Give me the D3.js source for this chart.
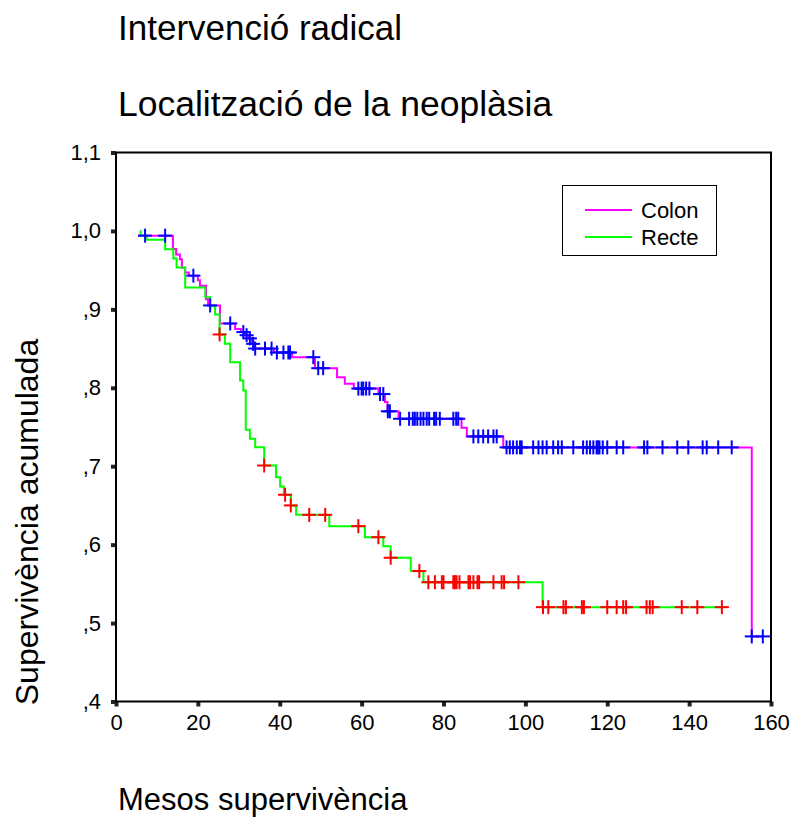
<!DOCTYPE html>
<html><head><meta charset="utf-8">
<script src="https://cdn.jsdelivr.net/npm/d3@7"></script>
<style>body{margin:0;background:#fff}svg{display:block}text{font-family:"Liberation Sans",Arial,Helvetica,sans-serif}</style>
</head><body>
<script>
// ---- data ----
const title1 = "Intervenció radical";
const title2 = "Localització de la neoplàsia";
const xTitle = "Mesos supervivència";
const yTitle = "Supervivència acumulada";
const seriesNames = ["Colon", "Recte"];
const xTicks = [0,20,40,60,80,100,120,140,160];
const yTicks = [0.4,0.5,0.6,0.7,0.8,0.9,1.0,1.1];
const yTickLabels = [",4",",5",",6",",7",",8",",9","1,0","1,1"];

// Colon: step times and survival after each step (first = start)
const colonT = [5.4,13.9,14.7,15.6,16.1,16.9,17.8,20.0,20.5,22.0,22.5,25.4,29.1,30.5,31.5,32.4,33.2,33.7,38.6,43.0,48.6,54.0,55.9,58.1,64.1,65.7,66.3,69.0,84.4,85.7,94.6,155.3];
const colonS = [0.994,0.977,0.970,0.964,0.953,0.947,0.943,0.937,0.930,0.913,0.905,0.882,0.875,0.871,0.867,0.863,0.856,0.850,0.845,0.839,0.825,0.8135,0.805,0.799,0.792,0.782,0.770,0.7605,0.749,0.738,0.724,0.483];
const colonCens = [7.1,12.0,18.9,23.0,27.9,31.1,31.9,32.7,33.5,34.0,36.4,38.0,39.3,40.9,42.1,42.5,48.2,49.4,50.6,59.2,60.0,60.4,61.1,61.9,64.5,65.3,66.4,66.9,69.4,71.6,72.5,73.0,73.6,74.4,75.1,75.9,76.5,77.7,78.2,79.1,82.4,83.1,83.6,87.3,88.5,89.7,90.9,92.2,93.0,95.4,96.2,97.0,97.9,98.7,99.1,101.9,103.2,104.2,105.2,106.8,108.0,108.9,111.7,114.1,115.0,115.8,116.6,117.4,117.7,118.1,118.9,120.0,122.3,123.9,129.0,129.8,133.5,137.1,139.8,143.3,144.3,147.1,150.4,155.3,158.0];

// Recte
const recteT = [5.9,6.0,7.5,12.0,14.0,14.8,16.9,21.8,23.0,24.2,25.3,26.6,27.9,30.3,31.1,31.7,32.7,34.0,36.2,39.1,40.1,41.0,42.7,44.0,52.1,60.8,65.3,67.1,72.0,75.1,104.2];
const recteS = [1.0,0.994,0.9887,0.9767,0.9648,0.9533,0.9278,0.9155,0.904,0.8935,0.868,0.856,0.8326,0.8093,0.7966,0.7465,0.735,0.7243,0.7009,0.686,0.6742,0.6636,0.650,0.638,0.6236,0.6095,0.598,0.5833,0.5663,0.5521,0.5203];
const recteCens = [25.3,36.2,41.3,42.7,47.2,51.1,59.2,64.1,67.1,74.1,76.3,77.9,79.6,80.0,82.4,82.8,83.2,83.9,86.1,86.5,87.3,88.3,88.7,92.2,94.2,94.8,98.3,104.3,105.6,109.3,109.9,113.8,114.3,120.0,122.3,123.9,124.6,129.6,130.4,131.1,138.2,142.0,148.0];

// ---- drawing ----
const W = 795, H = 822;
const svg = d3.select("body").append("svg").attr("width", W).attr("height", H);
const x = d3.scaleLinear().domain([0,160]).range([116,771]);
const y = d3.scaleLinear().domain([0.4,1.1]).range([701.5,152.5]);

svg.append("text").attr("x",118).attr("y",40).attr("font-size",35).text(title1);
svg.append("text").attr("x",118).attr("y",116).attr("font-size",35.5).text(title2);
svg.append("text").attr("x",118).attr("y",810).attr("font-size",31).text(xTitle);
svg.append("text").attr("transform","translate(38,522) rotate(-90)").attr("text-anchor","middle").attr("font-size",32).text(yTitle);

// axes
const yAxis = d3.axisLeft(y).tickValues(yTicks).tickFormat((d,i)=>yTickLabels[i]).tickSize(5).tickPadding(10);
const gy = svg.append("g").attr("transform","translate(116,0)").call(yAxis);
gy.select(".domain").remove();
gy.selectAll(".tick line").attr("stroke","#222").attr("stroke-width",4);
gy.selectAll(".tick text").attr("font-size",22).attr("font-family","Liberation Sans, Arial, sans-serif").attr("fill","#000");

const xAxis = d3.axisBottom(x).tickValues(xTicks).tickFormat(d3.format("d")).tickSize(5).tickPadding(8);
const gx = svg.append("g").attr("transform","translate(0,701.5)").call(xAxis);
gx.select(".domain").remove();
gx.selectAll(".tick line").attr("stroke","#222").attr("stroke-width",4);
gx.selectAll(".tick text").attr("font-size",22).attr("font-family","Liberation Sans, Arial, sans-serif").attr("fill","#000");

// frame
svg.append("rect").attr("x",x(0)).attr("y",y(1.1)).attr("width",x(160)-x(0)).attr("height",y(0.4)-y(1.1))
  .attr("fill","none").attr("stroke","#000").attr("stroke-width",2);

function stepPoints(T,S,endT){
  const pts=[[T[0],S[0]]];
  for(let i=1;i<T.length;i++){pts.push([T[i],S[i-1]]);pts.push([T[i],S[i]]);}
  pts.push([Math.max(endT,T[T.length-1]),S[S.length-1]]);
  return pts;
}
function levelAt(T,S,t){let v=S[0];for(let i=0;i<T.length;i++){if(T[i]<=t+0.05)v=S[i];}return v;}
const line = d3.line().x(d=>x(d[0])).y(d=>y(d[1]));

const series = [
  {T:colonT,S:colonS,C:colonCens,line:"#ff00ff",mark:"#0000ff"},
  {T:recteT,S:recteS,C:recteCens,line:"#00ff00",mark:"#ff0000"}
];
series.forEach(s=>{
  svg.append("path").attr("d",line(stepPoints(s.T,s.S,d3.max(s.C)))).attr("fill","none")
    .attr("stroke",s.line).attr("stroke-width",2);
});
series.forEach(s=>{
  const g=svg.append("g").attr("stroke",s.mark).attr("stroke-width",2);
  s.C.forEach(t=>{
    const cx=x(t), cy=y(levelAt(s.T,s.S,t));
    g.append("line").attr("x1",cx-7).attr("x2",cx+7).attr("y1",cy).attr("y2",cy);
    g.append("line").attr("x1",cx).attr("x2",cx).attr("y1",cy-7).attr("y2",cy+7);
  });
});

// legend
const lg = svg.append("g");
lg.append("rect").attr("x",562.5).attr("y",185.5).attr("width",154).attr("height",70).attr("fill","#fff").attr("stroke","#000").attr("stroke-width",1);
[["Colon","#ff00ff",210],["Recte","#00ff00",237]].forEach((d,i)=>{
  lg.append("line").attr("x1",585).attr("x2",632).attr("y1",d[2]).attr("y2",d[2]).attr("stroke",d[1]).attr("stroke-width",2);
  lg.append("text").attr("x",641).attr("y",d[2]+8).attr("font-size",22).text(seriesNames[i]);
});
</script>
</body></html>
